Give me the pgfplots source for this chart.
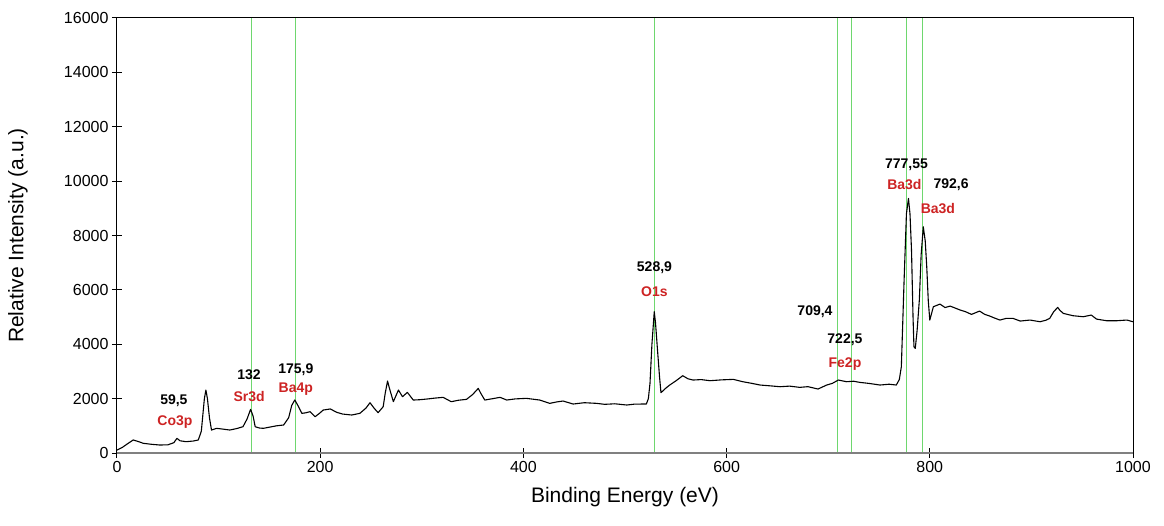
\documentclass[border=0pt]{standalone}
\usepackage{fontspec}
\setmainfont{Liberation Sans}
\usepackage{pgfplots}
\pgfplotsset{compat=1.18}
\definecolor{vline}{RGB}{110,215,110}
\definecolor{lblred}{RGB}{205,35,35}
\begin{document}
\begin{tikzpicture}
\begin{axis}[
  width=1016pt, height=435pt, scale only axis,
  xmin=0, xmax=1000, ymin=0, ymax=16000,
  xtick={0,200,...,1000}, ytick={0,2000,...,16000},
  scaled y ticks=false, scaled x ticks=false,
  tick align=center, major tick length=10pt,
  xtick pos=bottom, ytick pos=left,
  /pgf/number format/assume math mode=true,
  /pgf/number format/set thousands separator={},
  /pgf/number format/fixed,
  tick label style={font=\fontsize{16}{18}\selectfont},
  xlabel={Binding Energy (eV)}, ylabel={Relative Intensity (a.u.)},
  label style={font=\fontsize{21}{23}\selectfont},
  xlabel style={at={(axis description cs:0.5,-0.101)},anchor=center},
  ylabel style={at={(axis description cs:-0.0974,0.5)},anchor=center},
  axis line style={black, line width=1pt},
  major tick style={black, line width=1pt},
  clip=false,
]
\foreach \e in {132,175.9,528.9,709.4,722.5,777.55,792.6}{
  \edef\tmp{\noexpand\addplot[vline, line width=1pt, forget plot] coordinates {(\e,0) (\e,16000)};}
  \tmp
}
\addplot[gray, line width=1.3pt, forget plot] coordinates {(0,0) (1000,0)};
\addplot[black, line width=1.1pt, line join=round] coordinates {
(0,110) (5,200) (10,330) (16,480) (21,420) (26,356) (34,320) (42,294) (50,300) (56,380)
(59,540) (62,450) (68,416) (75,440) (80,478) (83,800) (86,2000) (87.5,2316) (89,2000) (91,1300)
(93,845) (98,907) (104,880) (111,845) (118,900) (124,968) (128,1250) (131.5,1606) (134,1350) (136,968)
(140,920) (144,907) (150,950) (157,1000) (164,1030) (169,1300) (172,1750) (175,1950) (178,1750) (182,1458)
(186,1480) (190,1520) (195,1336) (199,1450) (203,1580) (210,1620) (216,1500) (222,1433) (231,1397) (239,1458)
(245,1650) (249,1850) (253,1650) (257,1483) (262,1703) (264,2200) (266.3,2647) (268,2400) (272,1887) (277,2316)
(281,2071) (285.8,2230) (291.6,1948) (298,1960) (305,1985) (313,2020) (321,2047) (329,1887) (336,1940) (344,1973)
(350,2150) (355.6,2377) (358,2200) (362,1948) (370,2000) (377,2047) (383.6,1948) (392,1990) (403,2010) (416,1948)
(426,1826) (433,1880) (439,1912) (449,1801) (460,1850) (472,1826) (480,1790) (490,1810) (501.7,1765) (510,1800)
(521,1801) (523,2000) (524.6,2561) (526.5,4000) (528.8,5196) (530,4800) (532,3787) (534,2800) (535.4,2218) (540,2380)
(544,2500) (550,2650) (556.8,2843) (562,2730) (567,2684) (575,2700) (583.7,2659) (595,2690) (606.6,2708) (616,2622)
(625,2560) (633,2500) (643,2470) (652.6,2438) (662,2460) (672,2414) (680,2440) (690,2353) (698.5,2500) (704,2560)
(710,2684) (718,2622) (725,2640) (731,2598) (740,2560) (751,2500) (760,2530) (767,2500) (770,2700) (772,3174)
(774.6,6238) (777,8800) (779,9363) (780.5,8800) (782,7463) (783.5,5000) (784.4,3909) (785.7,3848) (787.5,4500) (789.7,5625)
(791.5,7300) (793.6,8320) (795.5,7800) (797,6849) (798.5,5600) (800,4890) (803.5,5380) (810,5478) (815,5350) (820,5404)
(830,5257) (835,5200) (841,5098) (849,5220) (854,5100) (859,5037) (864,4960) (869,4890) (875,4950) (882,4950)
(889,4853) (898.6,4890) (908.5,4828) (914,4880) (918,4950) (922,5200) (925.9,5355) (928,5250) (931.4,5135) (941,5049)
(951,5012) (959,5074) (964,4926) (974,4865) (984,4865) (994,4890) (1000,4828)
};
\tikzset{numlbl/.style={font=\fontsize{14}{16}\selectfont\bfseries, text=black},
         elmlbl/.style={font=\fontsize{14}{16}\selectfont\bfseries, text=lblred}}
\node[numlbl] at (axis cs:56,1912) {59,5};
\node[elmlbl] at (axis cs:57,1140) {Co3p};
\node[numlbl] at (axis cs:130,2868) {132};
\node[elmlbl] at (axis cs:130,2096) {Sr3d};
\node[numlbl] at (axis cs:176,3051) {175,9};
\node[elmlbl] at (axis cs:176,2353) {Ba4p};
\node[numlbl] at (axis cs:529,6800) {528,9};
\node[elmlbl] at (axis cs:529,5919) {O1s};
\node[numlbl] at (axis cs:687,5184) {709,4};
\node[numlbl] at (axis cs:716.5,4154) {722,5};
\node[elmlbl] at (axis cs:716.5,3272) {Fe2p};
\node[numlbl] at (axis cs:777,10588) {777,55};
\node[elmlbl] at (axis cs:775,9890) {Ba3d};
\node[numlbl] at (axis cs:821,9853) {792,6};
\node[elmlbl] at (axis cs:808,9007) {Ba3d};
\end{axis}
\pgfresetboundingbox
\path[use as bounding box] (current axis.south west) ++(-117pt,-72pt) rectangle ++(1164pt,525pt);
\end{tikzpicture}
\end{document}
